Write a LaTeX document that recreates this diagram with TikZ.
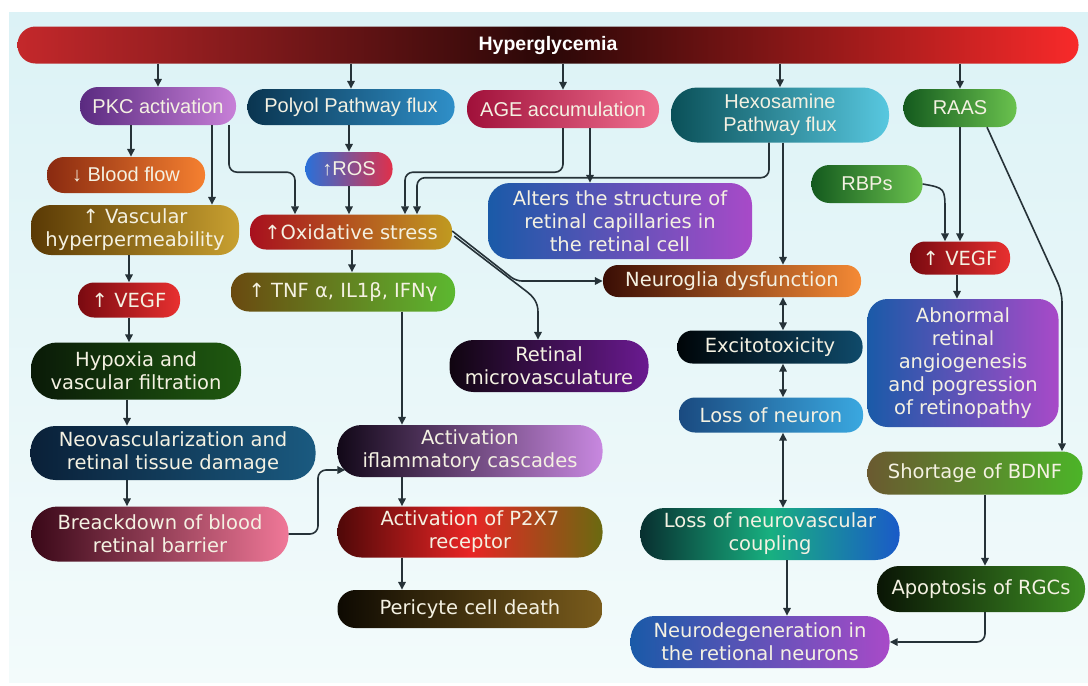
\documentclass[tikz,border=0pt]{standalone}
\usepackage{fontspec}
\setmainfont{DejaVu Sans}
\newfontfamily\rob{Liberation Sans}
\usetikzlibrary{arrows.meta,calc}
\newcommand\fsz[2]{\fontsize{#1}{#2}\selectfont}
\definecolor{txt}{HTML}{F4F1E2}
\definecolor{lc}{HTML}{263238}
\definecolor{bgT}{HTML}{DCF2F6}
\definecolor{bgB}{HTML}{F3FBFB}
\definecolor{barL}{HTML}{C4282B}
\definecolor{barM}{HTML}{2A0707}
\definecolor{barR}{HTML}{F82A2A}
\definecolor{pkcL}{HTML}{5A2A80}
\definecolor{pkcR}{HTML}{C880D8}
\definecolor{polL}{HTML}{0A3550}
\definecolor{polR}{HTML}{2F8FC8}
\definecolor{ageL}{HTML}{A0103A}
\definecolor{ageR}{HTML}{F07090}
\definecolor{hexL}{HTML}{0A5058}
\definecolor{hexR}{HTML}{58C8E0}
\definecolor{grnL}{HTML}{145A1E}
\definecolor{grnR}{HTML}{6AC24E}
\definecolor{bloL}{HTML}{8A2A10}
\definecolor{bloR}{HTML}{F58030}
\definecolor{rosL}{HTML}{2A70D8}
\definecolor{rosR}{HTML}{E0304A}
\definecolor{vasL}{HTML}{5A3A05}
\definecolor{vasR}{HTML}{C8A030}
\definecolor{oxiL}{HTML}{A8101E}
\definecolor{oxiR}{HTML}{C09A20}
\definecolor{bpL}{HTML}{1A5AA8}
\definecolor{bpR}{HTML}{A84AC8}
\definecolor{vegL}{HTML}{7A0A10}
\definecolor{vegR}{HTML}{E83030}
\definecolor{tnfL}{HTML}{6A4A10}
\definecolor{tnfR}{HTML}{5CB830}
\definecolor{hypL}{HTML}{0A1A08}
\definecolor{hypR}{HTML}{1F5A10}
\definecolor{retL}{HTML}{100510}
\definecolor{retR}{HTML}{6A1A90}
\definecolor{ngL}{HTML}{3A0E05}
\definecolor{ngR}{HTML}{F58A35}
\definecolor{exL}{HTML}{000508}
\definecolor{exR}{HTML}{0F4A6A}
\definecolor{lnL}{HTML}{1A4A80}
\definecolor{lnR}{HTML}{3AA8E0}
\definecolor{neoL}{HTML}{0A2038}
\definecolor{neoR}{HTML}{1A5A80}
\definecolor{acL}{HTML}{120818}
\definecolor{acR}{HTML}{C888E0}
\definecolor{brL}{HTML}{3A0818}
\definecolor{brR}{HTML}{F07898}
\definecolor{p2L}{HTML}{500808}
\definecolor{p2M}{HTML}{E82525}
\definecolor{p2R}{HTML}{6A6A10}
\definecolor{peL}{HTML}{0E0A02}
\definecolor{peR}{HTML}{7A5C1C}
\definecolor{nvL}{HTML}{083030}
\definecolor{nvM}{HTML}{18B080}
\definecolor{nvR}{HTML}{1A5AC8}
\definecolor{shL}{HTML}{6A5A30}
\definecolor{shR}{HTML}{4CB428}
\definecolor{apL}{HTML}{0A1505}
\definecolor{apR}{HTML}{3C8C22}
\begin{document}
\begin{tikzpicture}[x=1pt,y=-1pt,
  box/.style={inner sep=0pt, align=center, text=txt, font=\fsz{19.5}{23}},
  rb/.style={font={\rob\fsz{20}{23}}},
  pill/.style n args={5}{minimum width=#1pt, minimum height=#2pt, rounded corners=#5pt, left color=#3, right color=#4},
  arr/.style={draw=lc, line width=1.6pt, -{Triangle[length=8pt,width=7.5pt]}},
  darr/.style={draw=lc, line width=1.6pt, {Triangle[length=8pt,width=7.5pt]}-{Triangle[length=8pt,width=7.5pt]}}]
\useasboundingbox (0,0) rectangle (1088,686);
\fill[white] (0,0) rectangle (1088,686);
\fill[top color=bgT, bottom color=bgB] (9,12) rectangle (1088,682);

% nodes
\node[box,pill={1061}{37}{barL}{barR}{18},middle color=barM,text=white,font={\rob\bfseries\fsz{19.5}{23}}] (bar) at (548,45) {Hyperglycemia};
\node[box,rb,pill={156}{38}{pkcL}{pkcR}{18}] (pkc) at (158,106) {PKC activation};
\node[box,rb,pill={207}{36}{polL}{polR}{17}] (polyol) at (351,107) {Polyol Pathway flux};
\node[box,rb,pill={192}{38}{ageL}{ageR}{18}] (age) at (563,109) {AGE accumulation};
\node[box,rb,pill={218}{55}{hexL}{hexR}{26}] (hex) at (780,115) {Hexosamine\\Pathway flux};
\node[box,rb,pill={113}{38}{grnL}{grnR}{18}] (raas) at (960,108) {RAAS};
\node[box,rb,pill={158}{36}{bloL}{bloR}{17}] (blood) at (126,175) {↓ Blood flow};
\node[box,rb,pill={87}{34}{rosL}{rosR}{16}] (ros) at (349,169) {↑ROS};
\node[box,rb,pill={111}{38}{grnL}{grnR}{18}] (rbps) at (867,184) {RBPs};
\node[box,pill={208}{50}{vasL}{vasR}{20}] (vasc) at (135,230) {↑ Vascular\\hyperpermeability};
\node[box,pill={202}{35}{oxiL}{oxiR}{16}] (oxid) at (351,232) {↑Oxidative stress};
\node[box,pill={264}{76}{bpL}{bpR}{22}] (alters) at (620,221) {Alters the structure of\\retinal capillaries in\\the retinal cell};
\node[box,pill={102}{35}{vegL}{vegR}{16}] (vegf1) at (129,300) {↑ VEGF};
\node[box,pill={224}{39}{tnfL}{tnfR}{18}] (tnf) at (343,292) {↑ TNF α, IL1β, IFNγ};
\node[box,pill={100}{33}{vegL}{vegR}{15}] (vegf2) at (960,258) {↑ VEGF};
\node[box,pill={258}{32}{ngL}{ngR}{15}] (neuroglia) at (732,281) {Neuroglia dysfunction};
\node[box,pill={185}{33}{exL}{exR}{15}] (excito) at (770,347) {Excitotoxicity};
\node[box,pill={199}{52}{retL}{retR}{24}] (retinal) at (549,366) {Retinal\\microvasculature};
\node[box,pill={210}{57}{hypL}{hypR}{26}] (hypoxia) at (136,371) {Hypoxia and\\vascular filtration};
\node[box,pill={184}{35}{lnL}{lnR}{16}] (lossn) at (771,415) {Loss of neuron};
\node[box,pill={191}{128}{bpL}{bpR}{20}] (abnormal) at (963,363) {Abnormal\\retinal\\angiogenesis\\and pogression\\of retinopathy};
\node[box,pill={285}{54}{neoL}{neoR}{25}] (neo) at (173,453) {Neovascularization and\\retinal tissue damage};
\node[box,pill={265}{52}{acL}{acR}{24}] (activ) at (470,451) {Activation\\iflammatory cascades};
\node[box,pill={215}{43}{shL}{shR}{20}] (shortage) at (975,473) {Shortage of BDNF};
\node[box,pill={257}{55}{brL}{brR}{26}] (breakdown) at (160,534) {Breackdown of blood\\retinal barrier};
\node[box,pill={265}{51}{p2L}{p2R}{24},middle color=p2M] (p2x7) at (470,532) {Activation of P2X7\\receptor};
\node[box,pill={259}{52}{nvL}{nvR}{24},middle color=nvM] (neurovasc) at (770,534) {Loss of neurovascular\\coupling};
\node[box,pill={208}{46}{apL}{apR}{22}] (apoptosis) at (981,589) {Apoptosis of RGCs};
\node[box,pill={265}{38}{peL}{peR}{18}] (pericyte) at (470,609) {Pericyte cell death};
\node[box,pill={259}{52}{bpL}{bpR}{24}] (neurodeg) at (760,642) {Neurodegeneration in\\the retional neurons};

% connectors from bar
\draw[arr] (pkc.north |- bar.south) -- (pkc.north);
\draw[arr] (polyol.north |- bar.south) -- (polyol.north);
\draw[arr] (age.north |- bar.south) -- (age.north);
\draw[arr] (hex.north |- bar.south) -- (hex.north);
\draw[arr] (raas.north |- bar.south) -- (raas.north);

% PKC branches
\coordinate (pA) at ($(pkc.south)+(-27,0)$);
\coordinate (pB) at ($(pkc.south)+(54,0)$);
\coordinate (pC) at ($(pkc.south)+(71,0)$);
\coordinate (oC) at ($(oxid.north)+(-56,0)$);
\draw[arr] (pA) -- (pA |- blood.north);
\draw[arr] (pB) -- (pB |- vasc.north);
\draw[arr,rounded corners=8pt] (pC) -- ($(pC)+(0,47)$) -| (oC);

% polyol / ROS
\draw[arr] (ros.north |- polyol.south) -- (ros.north);
\draw[arr] (ros.south) -- (ros.south |- oxid.north);

% AGE / hexosamine to oxidative stress
\coordinate (oA) at ($(oxid.north)+(54,0)$);
\coordinate (oH) at ($(oxid.north)+(66,0)$);
\coordinate (hA) at ($(hex.south)+(-11,0)$);
\draw[arr,rounded corners=8pt] (age.south) -- ($(age.south)+(0,44)$) -| (oA);
\draw[arr,rounded corners=8pt] (hA) -- ($(hA)+(0,35)$) -| (oH);
\coordinate (aB) at ($(age.south)+(27,0)$);
\draw[arr] (aB) -- (aB |- alters.north);

% neuro column
\coordinate (vx) at (783,0);
\coordinate (vx2) at (787,0);
\draw[arr] (vx |- hex.south) -- (vx |- neuroglia.north);
\draw[darr] (vx |- neuroglia.south) -- (vx |- excito.north);
\draw[darr] (vx |- excito.south) -- (vx |- lossn.north);
\draw[darr] (vx |- lossn.south) -- (vx |- neurovasc.north);
\draw[arr] (vx2 |- neurovasc.south) -- (vx2 |- neurodeg.north);

% RAAS / RBPs
\draw[arr] (raas.south) -- (raas.south |- vegf2.north);
\coordinate (rv) at ($(vegf2.north)+(-15,0)$);
\draw[arr] (rbps.east) .. controls ($(rv |- rbps.east)+(0,4)$) .. ($(rv)+(0,-30)$) -- (rv);
\coordinate (rS) at ($(raas.south)+(27,0)$);
\coordinate (rbend) at (1062,292);
\draw[arr,rounded corners=10pt] (rS) -- (rbend) -- (rbend |- shortage.north);
\coordinate (xv) at (957,0);
\draw[arr] (xv |- vegf2.south) -- (xv |- abnormal.north);
\coordinate (xs) at (985,0);
\draw[arr] (xs |- shortage.south) -- (xs |- apoptosis.north);
\draw[arr,rounded corners=8pt] (xs |- apoptosis.south) |- (neurodeg.east);

% left column
\draw[arr] (vegf1.north |- vasc.south) -- (vegf1.north);
\draw[arr] (vegf1.south) -- (vegf1.south |- hypoxia.north);
\coordinate (lx) at (127,0);
\draw[arr] (lx |- hypoxia.south) -- (lx |- neo.north);
\draw[arr] (lx |- neo.south) -- (lx |- breakdown.north);

% middle column
\coordinate (xO) at (352,0);
\coordinate (xT) at (402,0);
\draw[arr] (xO |- oxid.south) -- (xO |- tnf.north);
\draw[arr] (xT |- tnf.south) -- (xT |- activ.north);
\draw[arr] (xT |- activ.south) -- (xT |- p2x7.north);
\draw[arr] (xT |- p2x7.south) -- (xT |- pericyte.north);

% oxidative stress diagonals
\coordinate (d1) at (516,281);
\draw[arr,rounded corners=6pt] ($(oxid.east)+(0,-1)$) -- (d1) -- (neuroglia.west);
\coordinate (d2) at (538,312);
\draw[arr] ($(oxid.east)+(2,4)$) -- (526,291) to[out=-37,in=90] (d2) -- (d2 |- retinal.north);

% breakdown to activation
\coordinate (bj) at (318,470);
\coordinate (bt) at ($(activ.west)+(8,19)$);
\draw[arr,rounded corners=8pt] (breakdown.east) -| (bj) -- (bt);
\end{tikzpicture}
\end{document}
